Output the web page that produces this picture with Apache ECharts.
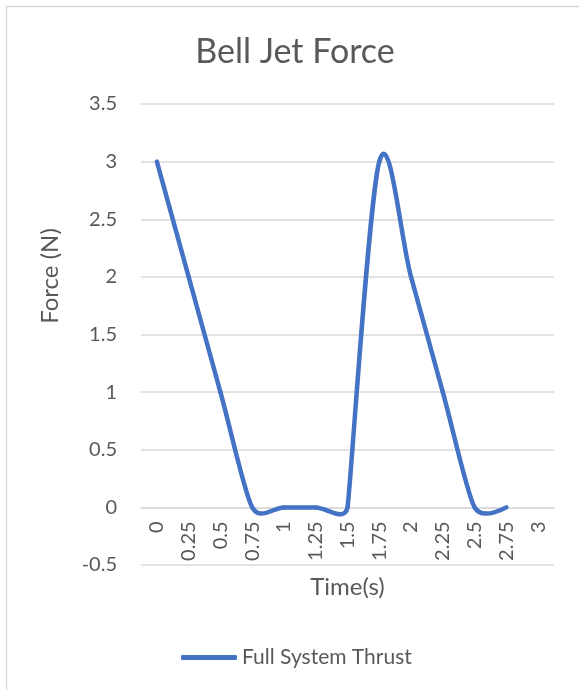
<!DOCTYPE html>
<html>
<head>
<meta charset="utf-8">
<script src="https://cdn.jsdelivr.net/npm/echarts@6/dist/echarts.min.js"></script>
<style>
  html, body { margin: 0; padding: 0; background: #ffffff; }
  #chart { width: 579px; height: 690px; }
</style>
</head>
<body>
<div id="chart"></div>
<script>
// Time stamps on the category axis (seconds)
const timeLabels = ['0', '0.25', '0.5', '0.75', '1', '1.25', '1.5', '1.75', '2', '2.25', '2.5', '2.75', '3'];
// Measured thrust of the full system (N), one value per time stamp
const thrustValues = [3, 2, 1, 0, 0, 0, 0, 3, 2, 1, 0, 0];

const FONT = 'Lato';
const TEXT = '#595959';
const GRID = '#d9d9d9';
const LINE = '#4472c4';

const chart = echarts.init(document.getElementById('chart'), null, { renderer: 'canvas' });

// Control-point offset at point k: along the chord from k-1 to k+1, with a
// length of one sixth of that chord, but never more than half of the
// shorter neighbouring segment.
function tangentOffset(pPrev, p, pNext) {
  const dx = pNext[0] - pPrev[0];
  const dy = pNext[1] - pPrev[1];
  const d02 = Math.hypot(dx, dy);
  if (d02 === 0) return [0, 0];
  const d01 = Math.hypot(p[0] - pPrev[0], p[1] - pPrev[1]);
  const d12 = Math.hypot(pNext[0] - p[0], pNext[1] - p[1]);
  const len = Math.min(d02 / 6, d01 / 2, d12 / 2);
  return [dx / d02 * len, dy / d02 * len];
}

// Smoothed curve: each segment i -> i+1 is a cubic Bezier.
function renderSegment(params, api) {
  const i = params.dataIndex;
  const n = thrustValues.length;
  if (i >= n - 1) return null;
  const clampIdx = (k) => Math.max(0, Math.min(n - 1, k));
  const pt = (k) => api.coord([clampIdx(k), thrustValues[clampIdx(k)]]);
  const p0 = pt(i - 1), p1 = pt(i), p2 = pt(i + 1), p3 = pt(i + 2);
  const t1 = tangentOffset(p0, p1, p2);
  const t2 = tangentOffset(p1, p2, p3);
  return {
    type: 'bezierCurve',
    shape: {
      x1: p1[0], y1: p1[1],
      x2: p2[0], y2: p2[1],
      cpx1: p1[0] + t1[0],
      cpy1: p1[1] + t1[1],
      cpx2: p2[0] - t2[0],
      cpy2: p2[1] - t2[1]
    },
    style: { stroke: LINE, lineWidth: 4.5, fill: null, lineCap: 'round', lineJoin: 'round' },
    silent: true
  };
}

const option = {
  backgroundColor: '#ffffff',
  animation: false,
  title: {
    text: 'Bell Jet Force',
    left: 290,
    textAlign: 'center',
    top: 30,
    textStyle: { fontFamily: FONT, fontSize: 34, fontWeight: 'normal', color: TEXT }
  },
  graphic: [
    {
      type: 'rect',
      shape: { x: 6.5, y: 6.5, width: 600, height: 700 },
      style: { fill: 'none', stroke: GRID, lineWidth: 1.5 },
      silent: true
    },
    {
      type: 'text',
      x: 50,
      y: 276,
      rotation: Math.PI / 2,
      style: {
        text: 'Force (N)',
        fontFamily: FONT,
        fontSize: 24,
        fill: TEXT,
        align: 'center',
        verticalAlign: 'middle'
      },
      silent: true
    }
  ],
  legend: {
    bottom: 17,
    left: 176,
    icon: 'roundRect',
    itemWidth: 56,
    itemHeight: 5,
    itemStyle: { color: LINE },
    textStyle: { fontFamily: FONT, fontSize: 21, color: TEXT },
    data: ['Full System Thrust']
  },
  grid: { left: 141, right: 25, top: 104, bottom: 125 },
  xAxis: {
    type: 'category',
    data: timeLabels,
    boundaryGap: true,
    name: 'Time(s)',
    nameLocation: 'middle',
    nameGap: 68,
    nameMoveOverlap: false,
    nameTextStyle: { fontFamily: FONT, fontSize: 24, color: TEXT },
    axisLine: { onZero: false, lineStyle: { color: GRID, width: 1.5 } },
    axisTick: { show: false },
    axisLabel: {
      interval: 0,
      rotate: 90,
      margin: 14,
      fontFamily: FONT,
      fontSize: 20,
      color: TEXT
    },
    splitLine: { show: false }
  },
  yAxis: {
    type: 'value',
    min: -0.5,
    max: 3.5,
    interval: 0.5,
    axisLine: { show: false },
    axisTick: { show: false },
    axisLabel: { margin: 24, fontFamily: FONT, fontSize: 20, color: TEXT },
    splitLine: { lineStyle: { color: GRID, width: 1.5 } }
  },
  series: [
    {
      name: 'Full System Thrust',
      type: 'custom',
      coordinateSystem: 'cartesian2d',
      data: thrustValues.map((v, i) => [i, v]),
      encode: { x: 0, y: 1 },
      itemStyle: { color: LINE },
      renderItem: renderSegment
    }
  ]
};

chart.setOption(option);

// Put the category axis (and its labels) on the zero line of the value axis.
const yZero = chart.convertToPixel({ yAxisIndex: 0 }, 0);
const yBottom = chart.convertToPixel({ yAxisIndex: 0 }, -0.5);
chart.setOption({ xAxis: { offset: -(yBottom - yZero) } });
</script>
</body>
</html>
